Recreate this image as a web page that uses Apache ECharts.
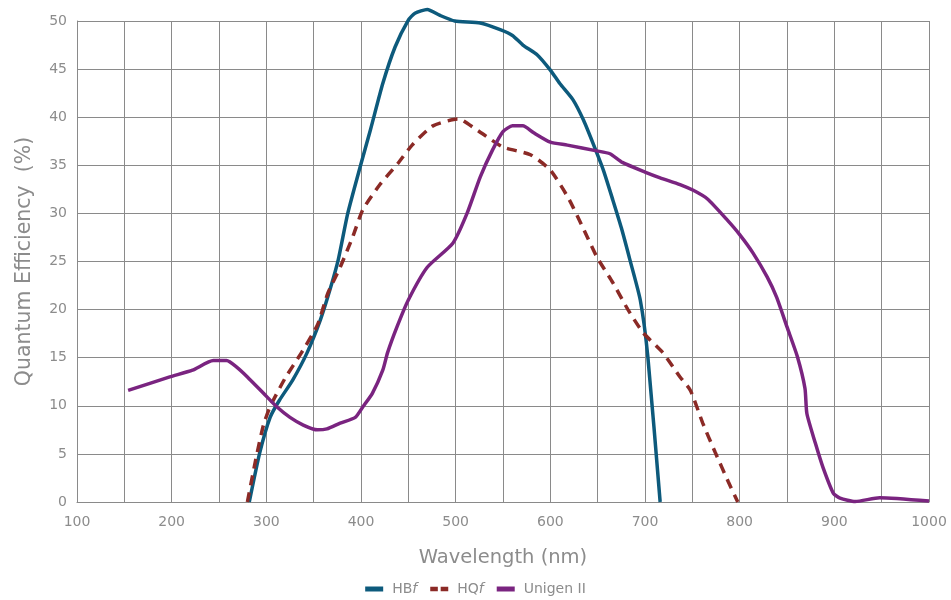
<!DOCTYPE html>
<html>
<head>
<meta charset="utf-8">
<script src="https://cdn.jsdelivr.net/npm/echarts@6/dist/echarts.min.js"></script>
<style>
  html, body { margin: 0; padding: 0; background: #fff; }
  #qeChart { width: 951px; height: 600px; }
</style>
</head>
<body>
<div id="qeChart"></div>
<script>
// wavelength (nm) / QE (%)
const hbfX = [282, 293, 304, 314, 328, 343, 357, 367, 376, 386, 399, 410, 423, 436, 450, 457, 470, 483, 499, 526, 547, 560, 571, 586, 600, 610, 624, 635, 645, 656, 666, 675, 684, 695, 703, 716]
const hbfY = [0, 5.1, 8.8, 10.6, 12.7, 15.5, 18.9, 22, 25.2, 30, 34.8, 38.7, 43.5, 47.3, 50.1, 50.8, 51.2, 50.6, 50, 49.8, 49.1, 48.5, 47.5, 46.5, 44.9, 43.5, 41.8, 39.7, 37.3, 34.5, 31.4, 28.5, 25.2, 21, 15.1, 0]

const hqfX = [280, 289, 297, 304, 320, 337, 354, 365, 378, 391, 402, 420, 439, 454, 476, 502, 507, 528, 550, 579, 600, 619, 634, 649, 666, 682, 698, 719, 737, 748, 761, 774, 788, 798]
const hqfY = [0, 4.5, 8, 9.9, 12.9, 15.5, 18.4, 21.7, 24.4, 27.5, 30.4, 33, 35.2, 37.1, 39.1, 39.8, 39.7, 38.3, 36.9, 36.1, 34.5, 31.6, 28.6, 25.5, 22.8, 20, 17.6, 15.5, 13, 11.6, 8.2, 5.2, 2.1, 0]

const unigenX = [154, 198, 222, 244, 258, 269, 280, 297, 311, 325, 339, 354, 364, 378, 394, 402, 412, 423, 428, 438, 450, 470, 497, 512, 526, 539, 550, 560, 571, 582, 600, 618, 649, 663, 676, 700, 716, 737, 751, 766, 787, 800, 814, 829, 839, 850, 861, 869, 871, 880, 888, 899, 906, 922, 948, 1000]
const unigenY = [11.6, 13, 13.7, 14.7, 14.7, 14, 13, 11.3, 9.9, 8.8, 8, 7.5, 7.6, 8.2, 8.8, 9.9, 11.3, 13.7, 15.5, 18.2, 21, 24.4, 26.9, 30, 33.8, 36.6, 38.5, 39.1, 39.1, 38.4, 37.4, 37.1, 36.5, 36.2, 35.3, 34.3, 33.7, 33.0, 32.4, 31.5, 29.3, 27.8, 25.9, 23.4, 21.3, 18.2, 15.1, 11.8, 9.2, 6.1, 3.6, 0.9, 0.4, 0.05, 0.45, 0.1]

const seriesNames = ['HBf', 'HQf', 'Unigen II']

function pairs (xs, ys) {
  return xs.map((x, i) => [x, ys[i]])
}

const chartDom = document.querySelector('#qeChart')
const myChart = echarts.init(chartDom)
const gridColor = '#8a8a8a'
const textColor = '#8c8c8c'
const font = 'DejaVu Sans'

const option = {
  animation: false,
  grid: {
    left: 77,
    right: 22,
    top: 21,
    bottom: 98
  },
  legend: {
    top: 577,
    left: 'center',
    itemWidth: 18,
    itemHeight: 5,
    itemGap: 13,
    textStyle: {
      color: textColor,
      fontFamily: font,
      fontSize: 14,
      padding: [0, 0, 0, 4],
      rich: {
        it: { fontStyle: 'italic', color: textColor, fontFamily: font, fontSize: 14 }
      }
    },
    formatter: function (name) {
      if (name === 'HBf') return 'HB{it|f}'
      if (name === 'HQf') return 'HQ{it|f}'
      return name
    },
    data: [
      { name: seriesNames[0], icon: 'rect' },
      { name: seriesNames[1], icon: 'path://M0,0H8V5H0Z M11,0H19V5H11Z' },
      { name: seriesNames[2], icon: 'rect' }
    ]
  },
  xAxis: {
    type: 'value',
    min: 100,
    max: 1000,
    interval: 50,
    name: 'Wavelength (nm)',
    nameLocation: 'middle',
    nameGap: 46,
    nameTextStyle: { color: textColor, fontFamily: font, fontSize: 19.5 },
    axisLine: { show: true, lineStyle: { color: gridColor } },
    axisTick: { show: false },
    axisLabel: {
      color: textColor,
      fontFamily: font,
      fontSize: 14,
      margin: 13,
      formatter: function (v) { return v % 100 === 0 ? String(v) : '' }
    },
    splitLine: { show: true, lineStyle: { color: gridColor, width: 1 } }
  },
  yAxis: {
    type: 'value',
    min: 0,
    max: 50,
    interval: 5,
    name: 'Quantum Efficiency  (%)',
    nameLocation: 'middle',
    nameGap: 42,
    nameTextStyle: { color: textColor, fontFamily: font, fontSize: 20.5 },
    axisLine: { show: true, lineStyle: { color: gridColor } },
    axisTick: { show: false },
    axisLabel: { color: textColor, fontFamily: font, fontSize: 14, margin: 10 },
    splitLine: { show: true, lineStyle: { color: gridColor, width: 1 } }
  },
  series: [
    {
      name: 'HBf',
      type: 'line',
      showSymbol: false,
      smooth: 0.2,
      clip: false,
      data: pairs(hbfX, hbfY),
      itemStyle: { color: '#0d5a7c' },
      lineStyle: { color: '#0d5a7c', width: 3.5 }
    },
    {
      name: 'HQf',
      type: 'line',
      showSymbol: false,
      smooth: 0.2,
      clip: false,
      data: pairs(hqfX, hqfY),
      itemStyle: { color: '#8b2a26' },
      lineStyle: { color: '#8b2a26', width: 3.5, type: [10, 7] }
    },
    {
      name: 'Unigen II',
      type: 'line',
      showSymbol: false,
      smooth: 0.2,
      clip: false,
      data: pairs(unigenX, unigenY),
      itemStyle: { color: '#7a2480' },
      lineStyle: { color: '#7a2480', width: 3.5 }
    }
  ]
}

option && myChart.setOption(option)
</script>
</body>
</html>
